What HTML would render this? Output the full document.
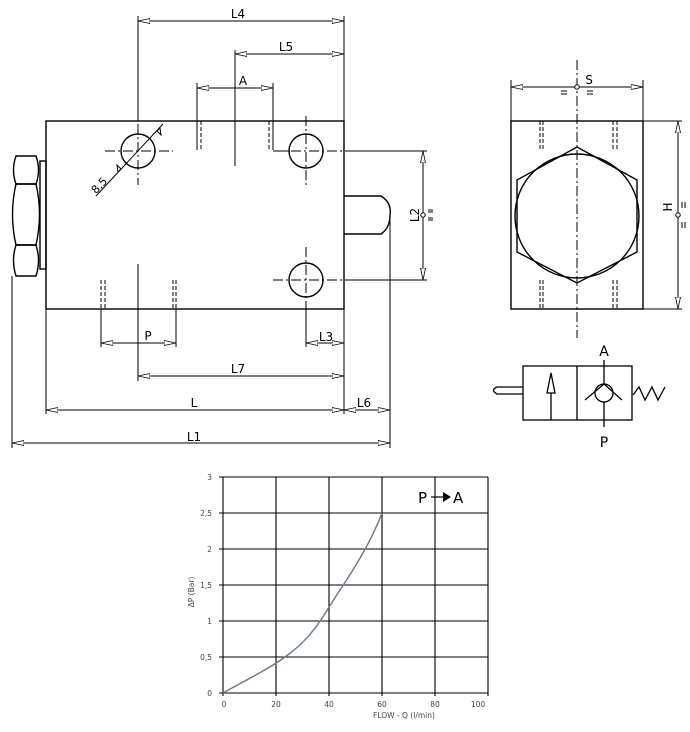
<!DOCTYPE html>
<html><head><meta charset="utf-8"><style>
html,body{margin:0;padding:0;background:#fff;}
svg{display:block;}
text{font-family:"DejaVu Sans","Liberation Sans",sans-serif;}
</style></head><body>
<svg width="690" height="732" viewBox="0 0 690 732" xmlns="http://www.w3.org/2000/svg">
<defs>
<marker id="a" viewBox="0 0 12 6" refX="12" refY="3" markerWidth="12" markerHeight="6" markerUnits="userSpaceOnUse" orient="auto-start-reverse"><path d="M0,0.5 L12,3 L0,5.5 Z" fill="#fff" stroke="#000" stroke-width="0.8"/></marker>
</defs>
<g stroke="#000" stroke-width="1.4" fill="none">
<rect x="46" y="121" width="298" height="188"/>
<rect x="40" y="161" width="6" height="108"/>
<path d="M16,156 L36,156 Q41,170 36,184 L16,184 Q11,170 16,156 Z"/>
<path d="M16,184 L36,184 Q43,214 36,245 L16,245 Q9,214 16,184 Z"/>
<path d="M16,245 L36,245 Q41,260 36,276 L16,276 Q11,260 16,245 Z"/>
<path d="M344,196 L381,196 Q392,203 390,215 Q390,228 381,234 L344,234"/>
<circle cx="138" cy="151" r="17"/>
<circle cx="306" cy="151" r="17"/>
<circle cx="306" cy="280" r="17"/>
</g>
<g stroke="#000" stroke-width="1" fill="none">
<path d="M105,151 H173 M138,124 V185" stroke-dasharray="10,3,2,3"/>
<path d="M273,151 H350 M306,116 V185" stroke-dasharray="10,3,2,3"/>
<path d="M273,280 H350 M306,247 V310" stroke-dasharray="10,3,2,3"/>
<path d="M350,151 H427 M350,280 H427"/>
<path d="M197,121 V150 M201,121 V150 M269,121 V150 M273,121 V150 M101,280 V309 M105,280 V309 M173,280 V309 M176,280 V309" stroke-dasharray="4,2"/>
<path d="M138,16 V121 M344,16 V121 M235,50 V166 M197,83 V150 M273,83 V150 M273,151 H290"/>
<path d="M138,264 V381 M101,309 V347 M176,309 V347 M306,309 V347 M46,309 V414 M344,309 V414 M12,276 V448 M390,220 V448"/>
<line x1="138" y1="21" x2="344" y2="21" marker-start="url(#a)" marker-end="url(#a)"/>
<line x1="235" y1="54" x2="344" y2="54" marker-start="url(#a)" marker-end="url(#a)"/>
<line x1="197" y1="88" x2="273" y2="88" marker-start="url(#a)" marker-end="url(#a)"/>
<line x1="101" y1="343" x2="176" y2="343" marker-start="url(#a)" marker-end="url(#a)"/>
<line x1="306" y1="343" x2="344" y2="343" marker-start="url(#a)" marker-end="url(#a)"/>
<line x1="138" y1="376" x2="344" y2="376" marker-start="url(#a)" marker-end="url(#a)"/>
<line x1="46" y1="410" x2="344" y2="410" marker-start="url(#a)" marker-end="url(#a)"/>
<line x1="344" y1="410" x2="390" y2="410" marker-start="url(#a)" marker-end="url(#a)"/>
<line x1="12" y1="443" x2="390" y2="443" marker-start="url(#a)" marker-end="url(#a)"/>
<line x1="423" y1="151" x2="423" y2="280" marker-start="url(#a)" marker-end="url(#a)"/>
<circle cx="423" cy="215" r="2.2" fill="#fff"/>
<path d="M428,210 H433 M428,212 H433 M428,218 H433 M428,220 H433"/>
<line x1="96" y1="196" x2="163" y2="124"/>
<path d="M118,172 l3,-3 l-4,-4 z M160,128 l-3,3 l4,4 z" fill="#fff"/>
</g>
<g font-size="12" fill="#000" text-anchor="middle">
<text x="238" y="18">L4</text>
<text x="286" y="51">L5</text>
<text x="243" y="85">A</text>
<text x="148" y="340">P</text>
<text x="326" y="341">L3</text>
<text x="238" y="373">L7</text>
<text x="194" y="407">L</text>
<text x="364" y="407">L6</text>
<text x="194" y="441">L1</text>
<text transform="translate(419,215) rotate(-90)">L2</text>
<text transform="translate(102,188) rotate(-47)" font-size="11">8,5</text>
</g>
<g stroke="#000" stroke-width="1.4" fill="none">
<rect x="511" y="121" width="132" height="188"/>
<polygon points="577,147 637,180 637,252 577,283 517,252 517,180"/>
<circle cx="577" cy="216" r="62"/>
</g>
<g stroke="#000" stroke-width="1" fill="none">
<path d="M577,60 V338" stroke-dasharray="10,3,2,3"/>
<path d="M540,121 V151 M543,121 V151 M613,121 V151 M617,121 V151 M540,280 V309 M543,280 V309 M613,280 V309 M617,280 V309" stroke-dasharray="4,2"/>
<path d="M511,80 V121 M643,80 V121 M643,121 H682 M643,309 H682"/>
<line x1="511" y1="87" x2="643" y2="87" marker-start="url(#a)" marker-end="url(#a)"/>
<line x1="678" y1="121" x2="678" y2="309" marker-start="url(#a)" marker-end="url(#a)"/>
<circle cx="577" cy="87" r="2.2" fill="#fff"/>
<circle cx="678" cy="215" r="2.2" fill="#fff"/>
<path d="M561,91 H567 M561,94 H567 M587,91 H593 M587,94 H593 M682,202 V208 M685,202 V208 M682,222 V228 M685,222 V228"/>
</g>
<g font-size="12" fill="#000" text-anchor="middle">
<text x="589" y="84">S</text>
<text transform="translate(672,207) rotate(-90)">H</text>
</g>
<g stroke="#000" stroke-width="1.3" fill="none">
<rect x="523" y="366" width="109" height="54"/>
<line x1="577" y1="366" x2="577" y2="420"/>
<path d="M523,387 H497 Q490,390 497,394 H523"/>
<line x1="551" y1="420" x2="551" y2="393"/>
<polygon points="551,373 547,393 555,393" fill="#fff"/>
<line x1="604" y1="360" x2="604" y2="384"/>
<line x1="604" y1="402" x2="604" y2="427"/>
<circle cx="604" cy="393" r="9"/>
<path d="M585,400 L604,384 L622,400"/>
<path d="M633,395 L639,387 L645,400 L652,387 L658,400 L665,387"/>
</g>
<g font-size="14" fill="#000" text-anchor="middle">
<text x="604" y="356">A</text>
<text x="604" y="447">P</text>
</g>
<g stroke="#000" stroke-width="1.1">
<path d="M223,477 H488 M223,513 H488 M223,549 H488 M223,585 H488 M223,621 H488 M223,657 H488 M223,693 H488"/>
<path d="M223,477 V696 M276,477 V696 M329,477 V696 M382,477 V696 M435,477 V696 M488,477 V696"/>
<path d="M219,477 H223 M219,513 H223 M219,549 H223 M219,585 H223 M219,621 H223 M219,657 H223 M219,693 H223"/>
</g>
<path d="M223,693 C250,678 270,668 285,657 C305,643 318,626 329,607 C345,582 368,550 382,513" stroke="#6a7a8a" stroke-width="1.4" fill="none"/>
<g font-size="7.5" fill="#444" font-family="Liberation Sans,sans-serif" text-anchor="end">
<text x="212" y="480">3</text><text x="212" y="516">2,5</text><text x="212" y="552">2</text>
<text x="212" y="588">1,5</text><text x="212" y="624">1</text><text x="212" y="660">0,5</text><text x="212" y="696">0</text>
</g>
<g font-size="7.5" fill="#444" text-anchor="middle">
<text x="224" y="707">0</text><text x="276" y="707">20</text><text x="329" y="707">40</text>
<text x="382" y="707">60</text><text x="435" y="707">80</text><text x="478" y="707">100</text>
<text x="404" y="718">FLOW - Q (l/min)</text>
<text transform="translate(194,592) rotate(-90)">ΔP (Bar)</text>
</g>
<g font-size="15" fill="#000">
<text x="418" y="503">P</text>
<text x="453" y="503">A</text>
</g>
<line x1="431" y1="497" x2="443" y2="497" stroke="#000" stroke-width="1.2"/>
<polygon points="443,492 451,497 443,502" fill="#000"/>
</svg>
</body></html>
